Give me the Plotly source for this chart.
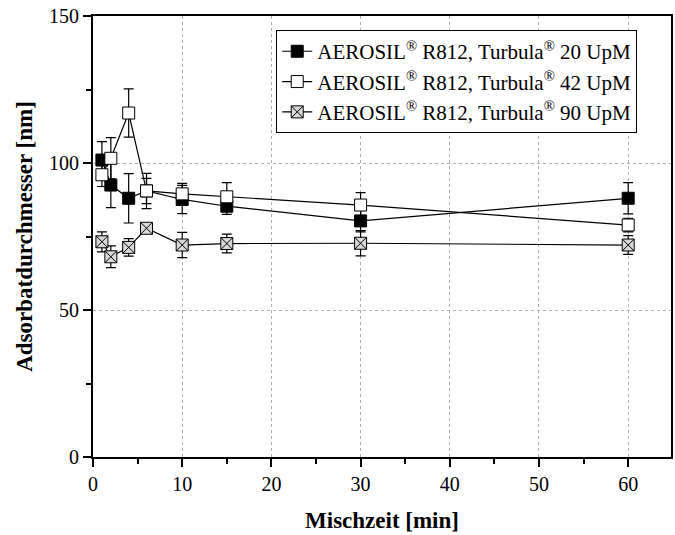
import plotly.graph_objects as go

# Mixing time [min]
mischzeit = [1, 2, 4, 6, 10, 15, 30, 60]

# Adsorbate diameter [nm] and standard deviation per Turbula speed
d_20 = [101.0, 92.5, 88.0, 90.5, 87.6, 85.3, 80.3, 88.0]
e_20 = [6.3, 7.7, 8.4, 4.3, 4.8, 2.8, 3.7, 5.3]

d_42 = [96.0, 101.6, 117.0, 90.5, 89.5, 88.5, 85.7, 78.9]
e_42 = [4.0, 7.0, 8.2, 6.0, 3.6, 4.8, 4.2, 2.3]

d_90 = [73.2, 68.1, 71.3, 77.8, 72.1, 72.6, 72.7, 72.1]
e_90 = [3.4, 3.7, 3.0, 1.5, 4.3, 3.2, 4.3, 3.2]

namen = [
    "AEROSIL<sup>®</sup> R812, Turbula<sup>®</sup> 20 UpM",
    "AEROSIL<sup>®</sup> R812, Turbula<sup>®</sup> 42 UpM",
    "AEROSIL<sup>®</sup> R812, Turbula<sup>®</sup> 90 UpM",
]

x_ticks = [0, 10, 20, 30, 40, 50, 60]
x_minor = [5, 15, 25, 35, 45, 55]
y_ticks = [0, 50, 100, 150]
y_minor = [25, 75, 125]

serif = "Liberation Serif, Times New Roman, serif"

fig = go.Figure()

stile = [
    (d_20, e_20, dict(symbol="square", color="black", size=12,
                      line=dict(color="black", width=1))),
    (d_42, e_42, dict(symbol="square", color="white", size=12,
                      line=dict(color="black", width=1))),
    (d_90, e_90, dict(symbol="square-x", color="#d8d8d8", size=12,
                      line=dict(color="black", width=1))),
]

for (werte, fehler, marker), name in zip(stile, namen):
    fig.add_trace(go.Scatter(
        x=mischzeit, y=werte, name=name,
        mode="lines+markers",
        line=dict(color="black", width=1.2),
        marker=marker,
        error_y=dict(type="data", array=fehler, visible=True,
                     color="black", thickness=1.2, width=5),
    ))

fig.update_layout(
    width=675, height=535,
    margin=dict(l=93, r=2, t=16, b=78),
    paper_bgcolor="white", plot_bgcolor="white",
    font=dict(family=serif, color="black", size=20),
    showlegend=True,
    legend=dict(
        x=0.317, y=0.968, xanchor="left", yanchor="top",
        bordercolor="black", borderwidth=1, bgcolor="white",
        font=dict(family=serif, size=21, color="black"),
        tracegroupgap=0, itemwidth=30,
    ),
    xaxis=dict(
        range=[0, 64.8], tickvals=x_ticks,
        showline=True, linecolor="black", linewidth=2, mirror=True,
        ticks="outside", ticklen=8, tickwidth=1.5, tickcolor="black",
        minor=dict(tickvals=x_minor, ticks="outside",
                   ticklen=5, tickwidth=1.5, tickcolor="black", showgrid=False),
        showgrid=True, gridcolor="#b0b0b0", griddash="dot", gridwidth=1,
        zeroline=False,
        tickfont=dict(family=serif, size=20),
        title=dict(text="<b>Mischzeit [min]</b>",
                   font=dict(family=serif, size=23), standoff=18),
    ),
    yaxis=dict(
        range=[0, 150], tickvals=y_ticks,
        showline=True, linecolor="black", linewidth=2, mirror=True,
        ticks="outside", ticklen=8, tickwidth=1.5, tickcolor="black",
        minor=dict(tickvals=y_minor, ticks="outside",
                   ticklen=5, tickwidth=1.5, tickcolor="black", showgrid=False),
        showgrid=True, gridcolor="#b0b0b0", griddash="dot", gridwidth=1,
        zeroline=False,
        tickfont=dict(family=serif, size=20),
        title=dict(text="<b>Adsorbatdurchmesser [nm]</b>",
                   font=dict(family=serif, size=23), standoff=10),
    ),
)

fig.write_html("out.html")
